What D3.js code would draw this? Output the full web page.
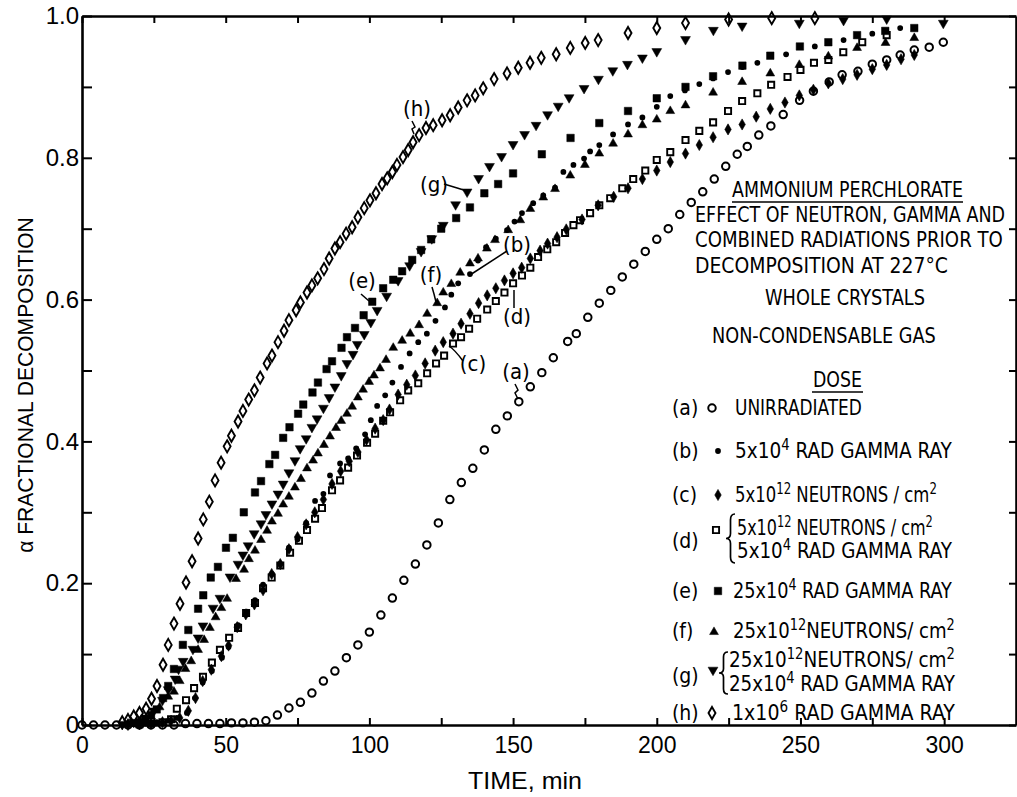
<!DOCTYPE html>
<html><head><meta charset="utf-8">
<script src="https://cdn.jsdelivr.net/npm/d3@7/dist/d3.min.js"></script>
<style>
html,body{margin:0;padding:0;background:#fff;}
svg{display:block;}
</style></head>
<body>
<svg id="chart" width="1017" height="797"></svg>
<script>
// ---------------- DATA ----------------
const xTickValues = [0,25,50,75,100,125,150,175,200,225,250,275,300];
const xTickLabels = ["0","","50","","100","","150","","200","","250","","300"];
const yTickValues = [0,0.1,0.2,0.3,0.4,0.5,0.6,0.7,0.8,0.9,1.0];
const yTickLabels = ["0","","0.2","","0.4","","0.6","","0.8","","1.0"];
const xTitle = "TIME, min";
const yTitle = "α FRACTIONAL DECOMPOSITION";

const seriesKeys = ["a","b","c","d","e","f","g","h"];

const curveA = [[0,0],[4,0],[8,0],[12,0],[16,0],[20,0],[24,0],[28,0],[32,0],[36,0.002],[40,0.002],[44,0.002],[48,0.002],[52,0.003],[56,0.003],[60,0.004],[64,0.006],[68,0.014],[72,0.024],[76,0.032],[80,0.045],[84,0.062],[88,0.076],[92,0.095],[96,0.113],[100,0.131],[104,0.155],[108,0.179],[112,0.204],[116,0.227],[120,0.254],[124,0.285],[128,0.318],[132,0.342],[136,0.362],[140,0.388],[144,0.417],[148,0.436],[152,0.456],[156,0.477],[160,0.497],[164,0.518],[169,0.541],[172,0.552],[176,0.575],[180,0.595],[184,0.613],[188,0.632],[192,0.65],[196,0.668],[200,0.685],[204,0.70],[208,0.72],[212,0.737],[216,0.752],[220,0.77],[224,0.788],[228,0.805],[231.5,0.816],[235.5,0.832],[239.7,0.845],[244,0.861],[249.7,0.881],[254.5,0.894],[260,0.907],[264.5,0.917],[270,0.922],[275,0.932],[280,0.938],[284.7,0.945],[289.6,0.952],[294.8,0.956],[299.7,0.963]];

const curveB = [[14,0],[18,0.001],[22,0.002],[26,0.004],[30,0.006],[33,0.01],[36.5,0.017],[39.3,0.038],[42,0.06],[45.2,0.076],[48.7,0.095],[51,0.11],[54.3,0.141],[57.3,0.16],[60.2,0.176],[63,0.198],[66.1,0.213],[68.9,0.227],[72,0.25],[75,0.262],[78,0.285],[81.1,0.316],[84,0.326],[86.3,0.352],[89.8,0.369],[92.6,0.376],[95.4,0.39],[98.5,0.41],[100.5,0.43],[102.7,0.45],[105.5,0.465],[108,0.483],[111,0.505],[114,0.524],[117,0.54],[120,0.552],[123,0.57],[126.3,0.589],[128.5,0.607],[130.9,0.623],[135,0.636],[137.8,0.655],[140.6,0.674],[144,0.686],[147.9,0.698],[150.5,0.71],[153.1,0.722],[157,0.736],[160.5,0.747],[164.6,0.758],[167.5,0.78],[171,0.79],[174.7,0.799],[176.8,0.809],[180,0.818],[184.8,0.833],[190,0.847],[195,0.857],[200,0.872],[204.7,0.887],[209.8,0.895],[214.8,0.904],[219.6,0.912],[224.8,0.921],[229.8,0.928],[235,0.934],[245,0.946],[255,0.957],[265,0.966],[275,0.975],[284.7,0.983]];

const curveC = [[16,0],[20,0.001],[24,0.002],[28,0.004],[31,0.006],[34,0.01],[37,0.02],[39.5,0.038],[42,0.062],[45,0.078],[48.5,0.097],[51,0.112],[54,0.138],[57,0.156],[60,0.17],[63,0.19],[66,0.213],[69,0.227],[72,0.248],[75,0.265],[78,0.283],[81,0.3],[84,0.318],[87,0.34],[90,0.358],[93,0.372],[96,0.385],[99,0.402],[102,0.418],[104.8,0.43],[107,0.445],[110,0.466],[113,0.48],[116,0.493],[119.4,0.51],[122.9,0.528],[125.7,0.54],[129.1,0.552],[131.9,0.566],[135,0.58],[138,0.595],[141,0.606],[144,0.616],[147,0.627],[150,0.637],[153,0.645],[156,0.658],[159.4,0.669],[162,0.679],[165.3,0.688],[168.5,0.699],[174,0.713],[179.6,0.733],[185,0.745],[190,0.757],[195,0.77],[200,0.782],[204.7,0.794],[210,0.806],[214.8,0.818],[219.6,0.829],[224.8,0.84],[229.7,0.847],[234.6,0.858],[239.5,0.869],[244.6,0.878],[249.6,0.888],[254.5,0.896],[259.7,0.905],[264.7,0.911],[269.7,0.917],[275,0.925],[280,0.931],[285,0.939],[289.6,0.945]];

const curveD = [[20,0.001],[24,0.002],[28,0.004],[31,0.008],[33,0.023],[36.2,0.035],[39,0.052],[42.1,0.068],[45.2,0.088],[48,0.106],[51.2,0.123],[54.3,0.137],[57.1,0.158],[60.2,0.172],[63,0.193],[66,0.208],[69,0.225],[72.4,0.243],[75.5,0.26],[78.3,0.275],[81.1,0.291],[83.5,0.306],[87,0.331],[89.8,0.345],[92.6,0.363],[95.7,0.38],[99.2,0.398],[102,0.411],[104.8,0.429],[107.2,0.441],[110.7,0.458],[113.5,0.472],[117,0.482],[120.1,0.496],[123.2,0.51],[126,0.521],[129.1,0.538],[131.9,0.547],[134.7,0.559],[137.5,0.573],[141,0.586],[144,0.598],[147,0.61],[150,0.623],[153.1,0.634],[156,0.645],[158.7,0.66],[161.9,0.671],[165,0.681],[168.1,0.694],[171,0.705],[173.3,0.712],[176.8,0.722],[180,0.733],[183.8,0.743],[188,0.757],[191.8,0.77],[196,0.782],[200,0.797],[204.7,0.808],[210,0.825],[214.8,0.838],[219.6,0.85],[224.8,0.866],[229.7,0.88],[235,0.891],[239.8,0.903],[245.5,0.914],[250,0.924],[254.7,0.934],[259.7,0.938],[264.9,0.949],[271.5,0.963],[280,0.973]];

const curveE = [[20,0.004],[22,0.008],[24,0.014],[26,0.022],[28.2,0.038],[30,0.055],[32,0.079],[35.1,0.113],[37,0.134],[40.4,0.164],[42.2,0.183],[44.8,0.208],[47.3,0.223],[50.1,0.25],[52.5,0.264],[56.3,0.3],[60.2,0.328],[62.3,0.344],[65.2,0.368],[67.2,0.381],[70,0.405],[72.2,0.42],[75.2,0.439],[77,0.452],[80.2,0.469],[82.1,0.483],[85.1,0.502],[87,0.513],[90.3,0.532],[92.2,0.547],[95,0.56],[98,0.578],[101,0.597],[104.8,0.616],[108.3,0.628],[111.4,0.64],[114.9,0.656],[118,0.67],[121.5,0.685],[125,0.7],[130.2,0.715],[135,0.73],[140,0.75],[144.8,0.763],[150,0.778],[160,0.805],[170,0.828],[180,0.849],[190,0.866],[200,0.884],[210,0.9],[219.6,0.915],[229.8,0.93],[239.5,0.944],[249.8,0.957],[259.7,0.963],[269.7,0.973],[279.5,0.979],[289.6,0.983]];

const curveF = [[16,0.002],[20,0.005],[24,0.012],[27,0.025],[30,0.04],[32,0.047],[34,0.062],[36,0.079],[38,0.09],[40.4,0.106],[42.5,0.12],[44.5,0.137],[46.5,0.152],[48.5,0.165],[50.5,0.178],[53.6,0.206],[56.4,0.219],[58.1,0.234],[60.2,0.246],[62.3,0.261],[64.4,0.274],[66.1,0.287],[68.2,0.298],[70,0.311],[72,0.322],[74.1,0.335],[76.2,0.347],[78.3,0.362],[80.4,0.373],[82.1,0.383],[84.2,0.395],[86.3,0.407],[88.4,0.419],[90.2,0.429],[92.2,0.439],[94,0.449],[96,0.462],[97.8,0.473],[99.9,0.484],[101.6,0.493],[103.7,0.503],[105.8,0.515],[108.3,0.532],[111.4,0.542],[114.2,0.552],[117.3,0.564],[120.1,0.58],[123.6,0.595],[125.7,0.61],[128.5,0.622],[131.6,0.638],[135,0.651],[137.8,0.658],[140.9,0.672],[143.7,0.684],[148.3,0.698],[152.5,0.712],[156,0.728],[160.5,0.744],[164.6,0.756],[169.9,0.775],[175,0.79],[180,0.806],[184.8,0.82],[190,0.833],[195,0.846],[200,0.854],[204.7,0.866],[210,0.874],[219.6,0.892],[229.7,0.907],[239.5,0.919],[249.6,0.931],[259.7,0.943],[269.7,0.955],[279.6,0.962],[289.6,0.969]];

const curveG = [[14,0.001],[18,0.004],[22,0.01],[25,0.02],[28,0.035],[30,0.05],[32.4,0.065],[33.6,0.079],[35.2,0.09],[38.6,0.107],[40.4,0.123],[42.1,0.14],[45.6,0.165],[48,0.179],[51.5,0.209],[54.3,0.227],[56,0.24],[57.8,0.253],[59.9,0.27],[62.3,0.284],[64,0.297],[66.1,0.312],[68.2,0.326],[70,0.34],[72,0.356],[74.1,0.373],[75.9,0.39],[78,0.404],[80,0.42],[81.8,0.432],[84,0.447],[86,0.462],[88,0.477],[90.2,0.493],[92.2,0.51],[94.3,0.523],[95.8,0.537],[98.2,0.551],[100.5,0.568],[102.7,0.585],[106,0.605],[110,0.627],[114,0.648],[118,0.668],[121.7,0.686],[125.7,0.705],[130,0.734],[134,0.752],[138,0.771],[141.8,0.788],[146,0.802],[150,0.819],[154,0.833],[158,0.846],[162,0.861],[165.7,0.873],[169.5,0.885],[174.7,0.898],[179.7,0.911],[184.7,0.923],[189.8,0.932],[195,0.941],[200,0.95],[210,0.967],[219.7,0.98],[229.7,0.986],[249.6,0.99],[265,0.994],[280,0.996],[299.7,0.99]];

const curveH = [[14,0.004],[16,0.007],[18,0.012],[20,0.017],[22.3,0.023],[24.2,0.037],[26.1,0.055],[28.2,0.085],[30,0.113],[32,0.143],[34.1,0.171],[36.2,0.201],[38.3,0.231],[40.4,0.263],[42.2,0.29],[44.3,0.315],[46.3,0.345],[48.4,0.37],[50.5,0.393],[52,0.408],[54.3,0.428],[56,0.443],[58,0.459],[60,0.472],[62,0.49],[64.4,0.51],[66.1,0.521],[68.2,0.54],[70.3,0.556],[72,0.571],[74.5,0.585],[76,0.596],[78.3,0.61],[80,0.62],[82,0.63],[84.2,0.643],[86,0.658],[88,0.672],[89.8,0.681],[91.9,0.693],[94,0.702],[96,0.716],[98.2,0.729],[100.2,0.74],[102.3,0.75],[104.4,0.763],[106.2,0.771],[108,0.78],[109.6,0.79],[111.7,0.801],[113.5,0.811],[115.2,0.822],[117.3,0.832],[119.7,0.842],[122.2,0.846],[125.3,0.853],[128.1,0.86],[130.9,0.871],[134,0.881],[136.8,0.888],[139.6,0.898],[143.4,0.911],[147.9,0.919],[151.8,0.927],[155.9,0.934],[159.8,0.941],[165,0.946],[169.9,0.955],[175.1,0.962],[179.6,0.966],[190,0.976],[200,0.983],[210,0.99],[225,0.995],[240,0.997],[255,0.997]];

const curves = [curveA, curveB, curveC, curveD, curveE, curveF, curveG, curveH];

const titleLines = ["AMMONIUM PERCHLORATE","EFFECT OF NEUTRON, GAMMA AND","COMBINED RADIATIONS PRIOR TO","DECOMPOSITION AT 227°C","WHOLE CRYSTALS","NON-CONDENSABLE GAS","DOSE"];
const legendKeys = ["(a)","(b)","(c)","(d)","(e)","(f)","(g)","(h)"];
const legendTexts = [
  [["UNIRRADIATED"]],
  [["5x10",{sup:"4"}," RAD GAMMA RAY"]],
  [["5x10",{sup:"12"}," NEUTRONS / cm",{sup:"2"}]],
  [["5x10",{sup:"12"}," NEUTRONS / cm",{sup:"2"}],["5x10",{sup:"4"}," RAD GAMMA RAY"]],
  [["25x10",{sup:"4"}," RAD GAMMA RAY"]],
  [["25x10",{sup:"12"},"NEUTRONS/ cm",{sup:"2"}]],
  [["25x10",{sup:"12"},"NEUTRONS/ cm",{sup:"2"}],["25x10",{sup:"4"}," RAD GAMMA RAY"]],
  [["1x10",{sup:"6"}," RAD GAMMA RAY"]]
];
const curveLabels = ["(a)","(b)","(c)","(d)","(e)","(f)","(g)","(h)"];

// ---------------- LAYOUT / STYLE ----------------
const FONT = "'Liberation Sans', Arial, 'DejaVu Sans', sans-serif";
const NARROW = "'Liberation Sans Narrow', 'DejaVu Sans Condensed', 'Liberation Sans', sans-serif";

const svg = d3.select("#chart");
svg.append("rect").attr("width",1017).attr("height",797).attr("fill","#fff");

const x = d3.scaleLinear().domain([0,325]).range([82,1016]);
const y = d3.scaleLinear().domain([0,1]).range([725,16]);

const markerStyle = {
  a:{type:d3.symbolCircle,  size:44, fill:"none", stroke:2.0, rot:0},
  b:{type:d3.symbolCircle,  size:26, fill:"#000", stroke:0,   rot:0},
  c:{type:d3.symbolDiamond, size:36, fill:"#000", stroke:0.6, rot:0},
  d:{type:d3.symbolSquare,  size:38, fill:"none", stroke:1.9, rot:0},
  e:{type:d3.symbolSquare,  size:56, fill:"#000", stroke:0.5, rot:0},
  f:{type:d3.symbolTriangle,size:34, fill:"#000", stroke:0.5, rot:0},
  g:{type:d3.symbolTriangle,size:42, fill:"#000", stroke:0.5, rot:180},
  h:{type:d3.symbolDiamond, size:42, fill:"none", stroke:1.9, rot:0}
};
function drawMarker(g, key, px, py){
  const s = markerStyle[key];
  g.append("path")
    .attr("d", d3.symbol().type(s.type).size(s.size)())
    .attr("transform", `translate(${px},${py}) rotate(${s.rot})`)
    .attr("fill", s.fill)
    .attr("stroke", "#000")
    .attr("stroke-width", s.stroke || 0);
}

// Text fitted to a measured width by a horizontal scale (no textLength)
function fitText(parent, px, py, width, anchor, family, size, build, rotate){
  const g = parent.append("g");
  const t = g.append("text").attr("x",0).attr("y",0)
    .attr("text-anchor",anchor).attr("font-family",family).attr("font-size",size).attr("fill","#000");
  build(t);
  const w = t.node().getComputedTextLength() || width;
  const sx = width / w;
  g.attr("transform", `translate(${px},${py})${rotate?` rotate(${rotate})`:""} scale(${sx},1)`);
  return g;
}
function plain(s){ return t => t.text(s); }
function rich(parts){
  return t => {
    let raised = false;
    parts.forEach(p=>{
      const ts = t.append("tspan");
      if(typeof p === "string"){ ts.text(p); if(raised){ ts.attr("dy",8); raised=false; } }
      else { ts.text(p.sup).attr("dy",-8).attr("font-size",15); raised = true; }
    });
  };
}

// ---------------- AXES ----------------
function styleAxis(g){
  g.select(".domain").attr("stroke","#000").attr("stroke-width",2.6);
  g.selectAll(".tick line").attr("stroke","#000").attr("stroke-width",2);
}
const gx = svg.append("g").attr("transform","translate(0,725)")
  .call(d3.axisBottom(x).tickValues(xTickValues).tickSize(-7).tickSizeOuter(0).tickPadding(12)
    .tickFormat((d,i)=>xTickLabels[i]));
styleAxis(gx);
gx.selectAll("text").attr("font-family",FONT).attr("font-size",23).attr("fill","#000");

const gxt = svg.append("g").attr("transform","translate(0,16)")
  .call(d3.axisTop(x).tickValues(xTickValues).tickSize(-7).tickSizeOuter(0).tickFormat(""));
styleAxis(gxt);

const gy = svg.append("g").attr("transform","translate(82,0)")
  .call(d3.axisLeft(y).tickValues(yTickValues).tickSize(-10).tickSizeOuter(0).tickPadding(3)
    .tickFormat((d,i)=>yTickLabels[i]));
styleAxis(gy);
gy.selectAll("text").attr("font-family",FONT).attr("font-size",24).attr("fill","#000");

const gyr = svg.append("g").attr("transform","translate(1016,0)")
  .call(d3.axisRight(y).tickValues(yTickValues).tickSize(-7).tickSizeOuter(0).tickFormat(""));
styleAxis(gyr);

// axis titles
fitText(svg, 525, 789, 114, "middle", FONT, 23, plain(xTitle));
fitText(svg, 33, 385, 336, "middle", FONT, 22, plain(yTitle), -90);

// ---------------- DATA POINTS ----------------
const gPts = svg.append("g");
seriesKeys.forEach((k,i)=>{
  const gs = gPts.append("g").attr("class","series-"+k);
  curves[i].forEach(([t,v])=> drawMarker(gs, k, x(t), y(v)));
});

// ---------------- CURVE LABELS + LEADERS ----------------
const curveLabelPos = [[516,379],[517,252],[473,371],[517,324],[362,288],[431,282],[434,192],[417,116]];
const leaders = [
  "M515,384 L518,390 L515,393 L518,399",
  "M507,251 L470,275",
  "M463,361 Q455,350 449,346",
  "M514,308 L514,290",
  "M361,294 L369,301",
  "M432,287 L434,294 L436,302",
  "M444,184 L467,191",
  "M412,121 L415,127 L412,129 L414,134"
];
curveLabels.forEach((lab,i)=>{
  svg.append("text").attr("x",curveLabelPos[i][0]).attr("y",curveLabelPos[i][1])
    .attr("text-anchor","middle").attr("font-family",NARROW).attr("font-size",22).text(lab);
  svg.append("path").attr("d",leaders[i]).attr("fill","none").attr("stroke","#000").attr("stroke-width",1.5);
});

// ---------------- TITLE BLOCK ----------------
const titleLayout = [
  {x:732,y:197,len:231,anchor:"start",ul:[732,963,202]},
  {x:695,y:222,len:310,anchor:"start"},
  {x:695,y:247,len:308,anchor:"start"},
  {x:695,y:273,len:253,anchor:"start"},
  {x:845,y:305,len:160,anchor:"middle"},
  {x:712,y:343,len:224,anchor:"start"},
  {x:813,y:387,len:49,anchor:"start",ul:[812,863,392]}
];
titleLines.forEach((s,i)=>{
  const L = titleLayout[i];
  fitText(svg, L.x, L.y, L.len, L.anchor, NARROW, 21, plain(s));
  if(L.ul) svg.append("line").attr("x1",L.ul[0]).attr("x2",L.ul[1]).attr("y1",L.ul[2]).attr("y2",L.ul[2])
    .attr("stroke","#000").attr("stroke-width",1.6);
});

// ---------------- LEGEND ----------------
const legendKeyY = [415,458,502,548,598,638,683,720];
const legendMarkerPos = [[712,408],[718,451],[718,495],[716,530],[718,591],[714,632],[713,670],[712,713]];
const legendLineLayout = [
  [[735,415,127]],
  [[735,458,217]],
  [[735,502,202]],
  [[737,535,196],[737,558,215]],
  [[733,598,219]],
  [[733,638,222]],
  [[729,667,226],[729,691,226]],
  [[732,720,223]]
];
const bracePos = [null,null,null,[726,514,563],null,null,[719,652,694],null];

function brace(bx, y0, y1){
  const w = 9, ym = (y0+y1)/2, h = y1-y0, xm = bx + w/2;
  const d = `M${bx+w},${y0} Q${xm},${y0} ${xm},${y0+h*0.12} L${xm},${ym-h*0.1} Q${xm},${ym} ${bx},${ym} Q${xm},${ym} ${xm},${ym+h*0.1} L${xm},${y1-h*0.12} Q${xm},${y1} ${bx+w},${y1}`;
  svg.append("path").attr("d",d).attr("fill","none").attr("stroke","#000").attr("stroke-width",1.7);
}
legendKeys.forEach((k,i)=>{
  svg.append("text").attr("x",672).attr("y",legendKeyY[i])
    .attr("font-family",NARROW).attr("font-size",21).text(k);
  drawMarker(svg.append("g"), seriesKeys[i], legendMarkerPos[i][0], legendMarkerPos[i][1]);
  legendTexts[i].forEach((parts,j)=>{
    const L = legendLineLayout[i][j];
    fitText(svg, L[0], L[1], L[2], "start", NARROW, 21, rich(parts));
  });
  if(bracePos[i]) brace(bracePos[i][0], bracePos[i][1], bracePos[i][2]);
});
</script>
</body></html>
